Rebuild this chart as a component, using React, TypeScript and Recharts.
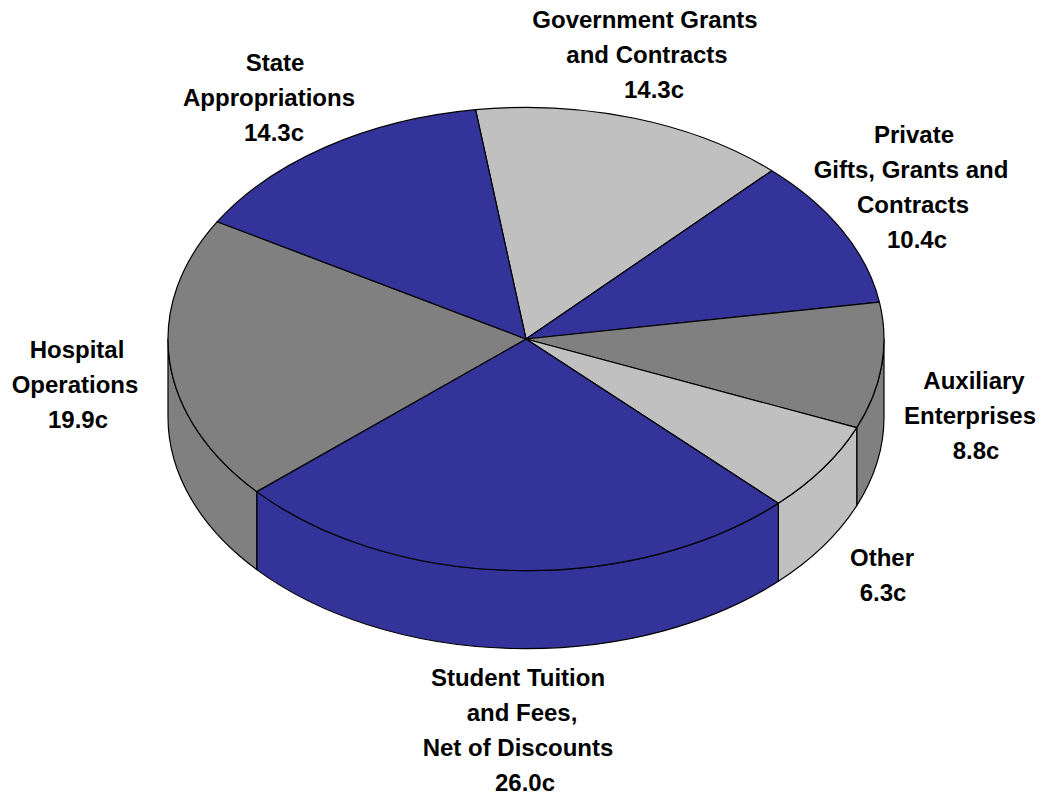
import React from "react";
import { PieChart, Pie } from "recharts";

const CATEGORIES = [
  "Government Grants and Contracts",
  "Private Gifts, Grants and Contracts",
  "Auxiliary Enterprises",
  "Other",
  "Student Tuition and Fees, Net of Discounts",
  "Hospital Operations",
  "State Appropriations",
];
const VALUES = [14.3, 10.4, 8.8, 6.3, 26.0, 19.9, 14.3];
const LABEL_LINES = [
  ["Government Grants", "and Contracts", "14.3c"],
  ["Private", "Gifts, Grants and", "Contracts", "10.4c"],
  ["Auxiliary", "Enterprises", "8.8c"],
  ["Other", "6.3c"],
  ["Student Tuition", "and Fees,", "Net of Discounts", "26.0c"],
  ["Hospital", "Operations", "19.9c"],
  ["State", "Appropriations", "14.3c"],
];

// Style and layout only
const BLUE = "#333399";
const GRAY = "#808080";
const LIGHT = "#C0C0C0";
const COLORS = [LIGHT, BLUE, GRAY, LIGHT, BLUE, GRAY, BLUE];
const LABEL_X = [
  [645, 647, 654],
  [914, 911, 913, 917],
  [974, 970, 976],
  [882, 883],
  [518, 522, 518, 525],
  [77, 75, 78],
  [275, 269, 274],
];
const LABEL_Y = [28, 143, 389, 566, 686, 358, 71];
const LINE_STEP = 35;
const SQUASH = 0.647;
const DEPTH = 78;
const CX = 526;
const CY = 339;
const RX = 358;
const START = 98.1;

const rows = CATEGORIES.map((name, i) => ({ name, value: VALUES[i], fill: COLORS[i] }));

function Slice(props: any) {
  const { cx, cy, outerRadius, startAngle, endAngle, fill } = props;
  const rx = outerRadius;
  const ry = outerRadius * SQUASH;
  const pt = (clock: number, dy = 0) => {
    const r = ((90 - clock) * Math.PI) / 180;
    return [cx + rx * Math.cos(r), cy - ry * Math.sin(r) + dy];
  };
  const ts = 90 - startAngle;
  const te = 90 - endAngle;
  const [x0, y0] = pt(ts);
  const [x1, y1] = pt(te);
  const large = te - ts > 180 ? 1 : 0;
  const top = `M${cx},${cy}L${x0},${y0}A${rx},${ry} 0 ${large} 1 ${x1},${y1}Z`;
  const a = Math.max(ts, 90);
  const b = Math.min(te, 270);
  let wall = "";
  if (a < b) {
    const [ax, ay] = pt(a);
    const [bx, by] = pt(b);
    wall = `M${ax},${ay}A${rx},${ry} 0 0 1 ${bx},${by}L${bx},${by + DEPTH}A${rx},${ry} 0 0 0 ${ax},${ay + DEPTH}Z`;
  }
  return (
    <g>
      {wall && <path d={wall} fill={fill} stroke="#000" strokeWidth={1.2} strokeLinejoin="round" />}
      <path d={top} fill={fill} stroke="#000" strokeWidth={1.2} strokeLinejoin="round" />
    </g>
  );
}

function SliceLabel(props: any) {
  const i = props.index;
  return (
    <text
      textAnchor="middle"
      fontFamily="'Liberation Sans', Arial, sans-serif"
      fontWeight="bold"
      fontSize={24}
      fill="#000"
    >
      {LABEL_LINES[i].map((line, k) => (
        <tspan key={k} x={LABEL_X[i][k]} y={LABEL_Y[i] + k * LINE_STEP}>
          {line}
        </tspan>
      ))}
    </text>
  );
}

export default function App() {
  return (
    <div style={{ position: "absolute", left: 0, top: 0, width: 1042, height: 798, overflow: "hidden", background: "#fff" }}>
      <PieChart width={1042} height={798} margin={{ top: 0, right: 0, bottom: 0, left: 0 }}>
        <Pie
          data={rows}
          dataKey="value"
          nameKey="name"
          cx={CX}
          cy={CY}
          innerRadius={0}
          outerRadius={RX}
          startAngle={START}
          endAngle={START - 360}
          paddingAngle={0}
          shape={Slice}
          label={SliceLabel}
          labelLine={false}
          isAnimationActive={false}
        />
      </PieChart>
    </div>
  );
}
